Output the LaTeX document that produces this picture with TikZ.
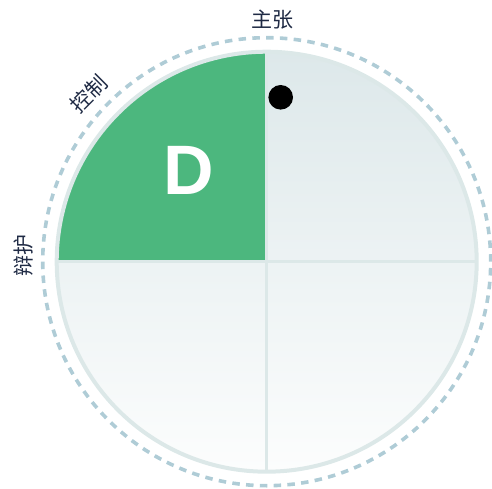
\documentclass[tikz,border=0pt]{standalone}
\usepackage{fontspec}
\usetikzlibrary{calc}
\setmainfont{Liberation Sans}
\newfontfamily\cjk{Noto Sans CJK SC}
\definecolor{greenq}{HTML}{4CB77E}
\definecolor{ringc}{HTML}{DCE8E8}
\definecolor{dashc}{HTML}{AFCCD6}
\definecolor{topc}{HTML}{DDE8EA}
\definecolor{botc}{HTML}{FCFDFD}
\definecolor{labelc}{HTML}{1F2A44}
\tikzset{
  lbl/.style={text=labelc, font=\cjk\fontsize{21}{24}\selectfont, inner sep=0pt},
  bigletter/.style={text=white, font=\bfseries\fontsize{70}{70}\selectfont, inner sep=0pt},
  crossline/.style={draw=ringc, line width=3.3pt},
}
\begin{document}
\begin{tikzpicture}[x=1pt,y=1pt]
\useasboundingbox (0,0) rectangle (492,488);
\coordinate (c) at (266.7,226.3);
% dashed outer ring
\draw[dashc, line width=3.6pt, dash pattern=on 7.5pt off 6.3pt] (c) circle[radius=224];
% gradient disc
\shade[top color=topc, bottom color=botc] (c) circle[radius=210];
% green quadrant
\fill[greenq] (c) -- ++(-210,0) arc[start angle=180, end angle=90, radius=210] -- cycle;
% cross lines
\coordinate (n) at ($(c)+(0,210)$);
\coordinate (s) at ($(c)+(0,-210)$);
\coordinate (w) at ($(c)+(-210,0)$);
\coordinate (e) at ($(c)+(210,0)$);
\draw[crossline] (n) -- (s);
\draw[crossline] (w) -- (e);
% ring
\draw[ringc, line width=4pt] (c) circle[radius=210];
% dot
\fill[black] (280.7,390.7) circle[radius=12.3];
% letter
\node[bigletter] (d) at (189,318) {D};
% labels
\node[lbl] (l1) at (272.5,468) {主张};
\node[lbl, rotate=45] (l2) at (89,394) {控制};
\node[lbl, rotate=90] (l3) at (24,232.5) {辩护};
\end{tikzpicture}
\end{document}
